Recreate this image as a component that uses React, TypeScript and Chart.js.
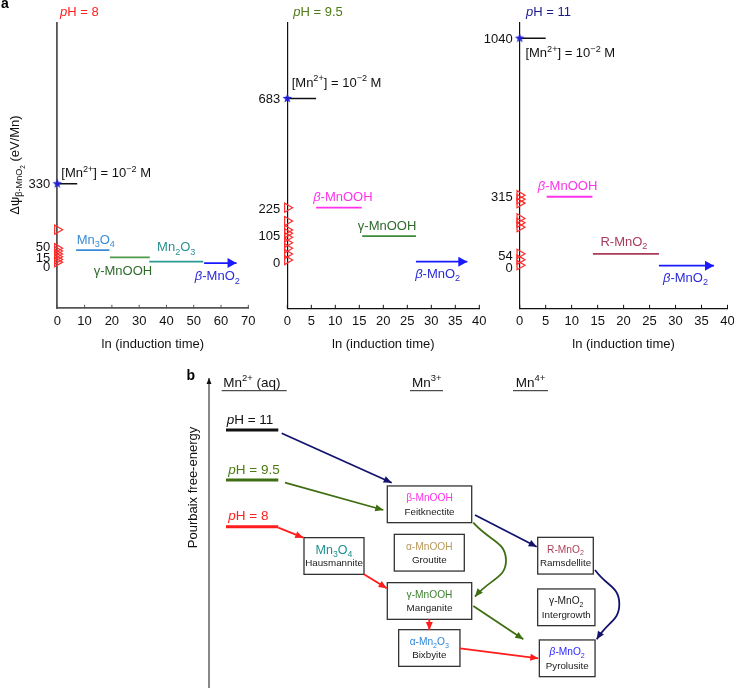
import React, { useEffect, useRef } from 'react';
import { Chart, registerables } from 'chart.js';

Chart.register(...registerables);

const FONT = '"Liberation Sans", Arial, Helvetica, sans-serif';

// ================= Panel a: shared text =================
const xAxisTitle = 'ln (induction time)';
const yAxisTitle = 'Δψ_{β-MnO_2} (eV/Mn)';
const aqLabel = '[Mn^{2+}] = 10^{−2} M';

// ================= Panel a: pH = 8 =================
const ph8Title = '*p*H = 8';
const ph8XMax = 70;
const ph8XStep = 10;
const ph8YTicks = [0, 15, 50, 330];
const ph8Triangles = [139, 62, 50, 38, 26, 15, 4];
const ph8Aq = 330;
const ph8AqEnd = 7.3;
const ph8Phases = ['Mn_3O_4', 'γ-MnOOH', 'Mn_2O_3', '*β*-MnO_2'];
const ph8Start = [6.9, 19.3, 33.7, 53.8];
const ph8End = [19.1, 33.9, 53.5, 65.7];
const ph8Energy = [54, 24, 6, 0];

// ================= Panel a: pH = 9.5 =================
const ph95Title = '*p*H = 9.5';
const ph95XMax = 40;
const ph95XStep = 5;
const ph95YTicks = [0, 105, 225, 683];
const ph95Triangles = [226, 170, 133, 119, 102, 79, 56, 32, 7];
const ph95Aq = 683;
const ph95AqEnd = 6.0;
const ph95Phases = ['*β*-MnOOH', 'γ-MnOOH', '*β*-MnO_2'];
const ph95Start = [6.0, 15.6, 26.8];
const ph95End = [15.5, 26.8, 37.5];
const ph95Energy = [226, 107, 0];

// ================= Panel a: pH = 11 =================
const ph11Title = '*p*H = 11';
const ph11XMax = 40;
const ph11XStep = 5;
const ph11YTicks = [0, 54, 315, 1040];
const ph11Triangles = [322, 304, 286, 216, 196, 176, 54, 27, 2];
const ph11Aq = 1040;
const ph11AqEnd = 5.0;
const ph11Phases = ['*β*-MnOOH', 'R-MnO_2', '*β*-MnO_2'];
const ph11Start = [5.2, 14.1, 26.8];
const ph11End = [14.0, 26.8, 37.4];
const ph11Energy = [315, 54, 0];

// ================= Panel b: diagram content =================
const bColumnHeaders = ['Mn^{2+} (aq)', 'Mn^{3+}', 'Mn^{4+}'];
const bPhLabels = ['*p*H = 11', '*p*H = 9.5', '*p*H = 8'];
const bAxisTitle = 'Pourbaix free-energy';
const boxFormula = ['β-MnOOH', 'Mn_3O_4', 'α-MnOOH', 'γ-MnOOH', 'α-Mn_2O_3', 'R-MnO_2', 'γ-MnO_2', '*β*-MnO_2'];
const boxMineral = ['Feitknectite', 'Hausmannite', 'Groutite', 'Manganite', 'Bixbyite', 'Ramsdellite', 'Intergrowth', 'Pyrolusite'];

// ---- panel b layout (diagram units) ----
const bHeaderX0 = [41.7, 230, 333];
const bHeaderX1 = [106.7, 263, 368];
const bHeaderTextX = [43.3, 246.7, 350.5];
const bHeaderAlign: ('left' | 'center')[] = ['left', 'center', 'center'];
const bHeaderY = 21.7;
const bUnderlineY = 30.7;
const bPhLevel = [70, 120, 166.7];
const bPhLineX = [46, 98.3];
const bPhTextX = [46.7, 48.3, 48.3];
const bPhTextY = [59, 109.3, 155];
const boxX = [249.5, 154, 249.3, 249.5, 249.3, 385.5, 386.3, 387.2];
const boxY = [144.3, 196, 192.7, 241, 288, 195.7, 247.3, 298.3];
const boxW = [84.4, 60, 70, 84.4, 61.3, 55.6, 57.3, 55.7];
const boxH = 36.7;
const bArrowPaths: number[][][] = [
  [[101.7, 73.3], [211.7, 122.7]],
  [[105, 122.7], [203.3, 150]],
  [[98.3, 167.7], [123.3, 177.7]],
  [[184, 214.3], [206.7, 228.3]],
  [[249.3, 259.3], [249.3, 270]],
  [[280, 288.3], [358.3, 298.3]],
  [[295, 155], [356.7, 186.7]],
  [[293.3, 162.7], [326, 200], [295, 236.7]],
  [[293.3, 246], [343.3, 279.3]],
  [[415, 210], [439.3, 243.3], [416.7, 279.3]],
];

// ---- styles ----
const NAVY = '#13136e';
const GREEN = '#3f6e12';
const RED = '#ff1c1c';
const bArrowColors = [NAVY, GREEN, RED, RED, RED, RED, NAVY, GREEN, GREEN, NAVY];
const bPhLineColors = ['#111111', GREEN, RED];
const bPhTextColors = ['#111111', '#4d7a12', '#ff2020'];
const boxFormulaColors = ['#ff33ee', '#1f8f8f', '#b89a5c', '#3f7f2f', '#2f88d8', '#b0405a', '#222222', '#2a2aff'];
const boxFormulaSize = [10.2, 12.5, 10.2, 10.2, 10.2, 10.2, 10.2, 10.2];

// ================= rich text helpers =================
type Seg = { t: string; scale: number; dy: number; it: boolean };

function parseRich(s: string, scale = 1, dy = 0, it = false): Seg[] {
  const out: Seg[] = [];
  let buf = '';
  let italic = it;
  const flush = () => {
    if (buf) {
      out.push({ t: buf, scale, dy, it: italic });
      buf = '';
    }
  };
  let i = 0;
  while (i < s.length) {
    const c = s[i];
    if (c === '_' || c === '^') {
      flush();
      let inner: string;
      if (s[i + 1] === '{') {
        let depth = 1;
        let j = i + 2;
        while (j < s.length && depth > 0) {
          if (s[j] === '{') depth++;
          else if (s[j] === '}') depth--;
          j++;
        }
        inner = s.slice(i + 2, j - 1);
        i = j;
      } else {
        inner = s[i + 1];
        i += 2;
      }
      const ndy = dy + (c === '_' ? 0.25 * scale : -0.4 * scale);
      out.push(...parseRich(inner, scale * 0.7, ndy, italic));
      continue;
    }
    if (c === '*') {
      flush();
      italic = !italic;
      i++;
      continue;
    }
    buf += c;
    i++;
  }
  flush();
  return out;
}

function segFont(s: Seg, size: number, bold: boolean) {
  return `${s.it ? 'italic ' : ''}${bold ? 'bold ' : ''}${(size * s.scale).toFixed(2)}px ${FONT}`;
}

function drawRich(
  ctx: CanvasRenderingContext2D,
  str: string,
  x: number,
  y: number,
  size: number,
  color: string,
  align: 'left' | 'center' | 'right' = 'left',
  bold = false
) {
  const segs = parseRich(str);
  let total = 0;
  const widths = segs.map((s) => {
    ctx.font = segFont(s, size, bold);
    const w = ctx.measureText(s.t).width;
    total += w;
    return w;
  });
  let cx = align === 'center' ? x - total / 2 : align === 'right' ? x - total : x;
  const base = y + 0.36 * size;
  ctx.save();
  ctx.fillStyle = color;
  ctx.textBaseline = 'alphabetic';
  ctx.textAlign = 'left';
  segs.forEach((s, i) => {
    ctx.font = segFont(s, size, bold);
    ctx.fillText(s.t, cx, base + s.dy * size);
    cx += widths[i];
  });
  ctx.restore();
}

function makeStar(): HTMLCanvasElement {
  const c = document.createElement('canvas');
  c.width = 11;
  c.height = 11;
  const g = c.getContext('2d')!;
  g.fillStyle = '#2020d8';
  g.beginPath();
  for (let k = 0; k < 10; k++) {
    const r = k % 2 === 0 ? 5 : 2.1;
    const a = -Math.PI / 2 + (k * Math.PI) / 5;
    const px = 5.5 + r * Math.cos(a);
    const py = 5.5 + r * Math.sin(a);
    if (k === 0) g.moveTo(px, py);
    else g.lineTo(px, py);
  }
  g.closePath();
  g.fill();
  return c;
}

// arrowheads for datasets flagged with `arrow`
const arrowPlugin = {
  id: 'arrowHeads',
  afterDatasetsDraw(chart: any) {
    const ctx = chart.ctx as CanvasRenderingContext2D;
    chart.data.datasets.forEach((ds: any, i: number) => {
      if (!ds.arrow) return;
      const pts = chart.getDatasetMeta(i).data as any[];
      const n = pts.length;
      if (n < 2) return;
      const end = pts[n - 1];
      const prev = pts[n - 2];
      let fx = prev.x;
      let fy = prev.y;
      if (ds.tension && end.cp1x !== undefined && (end.cp1x !== end.x || end.cp1y !== end.y)) {
        fx = end.cp1x;
        fy = end.cp1y;
      }
      const ang = Math.atan2(end.y - fy, end.x - fx);
      const L = ds.arrowLen ?? 8;
      const W = ds.arrowHalf ?? 3.5;
      const bx = end.x - L * Math.cos(ang);
      const by = end.y - L * Math.sin(ang);
      ctx.save();
      ctx.fillStyle = ds.borderColor;
      ctx.beginPath();
      ctx.moveTo(end.x, end.y);
      ctx.lineTo(bx + W * Math.sin(ang), by - W * Math.cos(ang));
      ctx.lineTo(bx - W * Math.sin(ang), by + W * Math.cos(ang));
      ctx.closePath();
      ctx.fill();
      ctx.restore();
    });
  },
};

interface PanelCfg {
  title: string;
  titleColor: string;
  titleDx: number;
  xMax: number;
  xStep: number;
  yMin: number;
  yMax: number;
  yTicks: number[];
  yNudge: number[];
  triangles: number[];
  aq: number;
  aqEnd: number;
  aqDx: number;
  aqDy: number;
  phases: string[];
  start: number[];
  end: number[];
  energy: number[];
  colors: string[];
  labelColors: string[];
  labelDy: number[];
  labelDx: number[];
  axisColor: string;
  axisWidth: number;
  yAxisWidth: number;
  rightPad: number;
  showYTitle: boolean;
}

const panelCfgs: PanelCfg[] = [
  {
    title: ph8Title, titleColor: '#ff2020', titleDx: 2.7,
    xMax: ph8XMax, xStep: ph8XStep, yMin: -188, yMax: 1000,
    yTicks: ph8YTicks, yNudge: [3.5, -2.5, -5, 0],
    triangles: ph8Triangles, aq: ph8Aq, aqEnd: ph8AqEnd, aqDx: 4, aqDy: -11,
    phases: ph8Phases, start: ph8Start, end: ph8End, energy: ph8Energy,
    colors: ['#3b8bd6', '#4f9a4a', '#2a9a95', '#1a1aff'],
    labelColors: ['#3b8bd6', '#2e6a2a', '#2a9090', '#2a2ad8'],
    labelDy: [-11, 13, -15, 12.5], labelDx: [3, -7, 0, -3],
    axisColor: '#555555', axisWidth: 1.8, yAxisWidth: 57.3, rightPad: 16.7, showYTitle: true,
  },
  {
    title: ph95Title, titleColor: '#4d7a12', titleDx: 6,
    xMax: ph95XMax, xStep: ph95XStep, yMin: -195, yMax: 1000,
    yTicks: ph95YTicks, yNudge: [0.6, -1.3, 0, 0],
    triangles: ph95Triangles, aq: ph95Aq, aqEnd: ph95AqEnd, aqDx: 4.4, aqDy: -16.6,
    phases: ph95Phases, start: ph95Start, end: ph95End, energy: ph95Energy,
    colors: ['#ff33ee', '#3a8a3a', '#1a1aff'],
    labelColors: ['#ff33ee', '#2e6a2a', '#2a2ad8'],
    labelDy: [-11, -10.5, 11.5], labelDx: [4, -2, -4],
    axisColor: '#111111', axisWidth: 1.2, yAxisWidth: 47.3, rightPad: 10.7, showYTitle: false,
  },
  {
    title: ph11Title, titleColor: '#1a1a8a', titleDx: 6.3,
    xMax: ph11XMax, xStep: ph11XStep, yMin: -195, yMax: 1111,
    yTicks: ph11YTicks, yNudge: [2, 1, -0.8, 0],
    triangles: ph11Triangles, aq: ph11Aq, aqEnd: ph11AqEnd, aqDx: 5.7, aqDy: 14.4,
    phases: ph11Phases, start: ph11Start, end: ph11End, energy: ph11Energy,
    colors: ['#ff33ee', '#a83a5a', '#1a1aff'],
    labelColors: ['#ff33ee', '#a83a5a', '#2a2ad8'],
    labelDy: [-11.5, -12.5, 11.5], labelDx: [-2, -2, -1],
    axisColor: '#111111', axisWidth: 1.2, yAxisWidth: 49.7, rightPad: 6.3, showYTitle: false,
  },
];

function buildPanelChart(canvas: HTMLCanvasElement, cfg: PanelCfg, star: HTMLCanvasElement) {
  const datasets: any[] = [];
  datasets.push({
    data: [{ x: 0, y: cfg.aq }],
    pointStyle: star,
    pointRadius: 5,
    clip: false,
  });
  datasets.push({
    data: [{ x: 0, y: cfg.aq }, { x: cfg.aqEnd, y: cfg.aq }],
    showLine: true,
    borderColor: '#111111',
    borderWidth: 1.4,
    pointRadius: 0,
  });
  datasets.push({
    data: cfg.triangles.map((v) => ({ x: 0, y: v })),
    pointStyle: 'triangle',
    rotation: 90,
    pointRadius: 5.3,
    borderColor: '#ff2a2a',
    backgroundColor: 'rgba(255,255,255,0)',
    borderWidth: 1.2,
    clip: false,
  });
  cfg.phases.forEach((p, i) => {
    const isLast = i === cfg.phases.length - 1;
    datasets.push({
      data: [{ x: cfg.start[i], y: cfg.energy[i] }, { x: cfg.end[i], y: cfg.energy[i] }],
      showLine: true,
      borderColor: cfg.colors[i],
      borderWidth: 1.8,
      pointRadius: 0,
      arrow: isLast,
      arrowLen: 9,
      arrowHalf: 5,
      clip: false,
    });
  });

  const textPlugin = {
    id: 'panelText',
    afterDraw(chart: any) {
      const ctx = chart.ctx as CanvasRenderingContext2D;
      const xs = chart.scales.x;
      const ys = chart.scales.y;
      const area = chart.chartArea;
      ctx.save();
      // inward tick marks on x axis
      ctx.strokeStyle = cfg.axisColor;
      ctx.lineWidth = 1;
      xs.ticks.forEach((t: any) => {
        const px = xs.getPixelForValue(t.value);
        ctx.beginPath();
        ctx.moveTo(px, area.bottom);
        ctx.lineTo(px, area.bottom - 3.5);
        ctx.stroke();
      });
      ctx.restore();
      // y tick labels
      cfg.yTicks.forEach((v, i) => {
        drawRich(ctx, String(v), area.left - 7, ys.getPixelForValue(v) + cfg.yNudge[i], 13, '#111111', 'right');
      });
      // panel title
      drawRich(ctx, cfg.title, area.left + cfg.titleDx, 11.7, 13, cfg.titleColor, 'left');
      // x axis title
      drawRich(ctx, xAxisTitle, (area.left + area.right) / 2, 343, 13, '#111111', 'center');
      // aqueous label
      drawRich(ctx, aqLabel, xs.getPixelForValue(0) + cfg.aqDx, ys.getPixelForValue(cfg.aq) + cfg.aqDy, 13, '#111111', 'left');
      // phase labels
      cfg.phases.forEach((p, i) => {
        const cx = xs.getPixelForValue((cfg.start[i] + cfg.end[i]) / 2) + cfg.labelDx[i];
        const cy = ys.getPixelForValue(cfg.energy[i]) + cfg.labelDy[i];
        drawRich(ctx, p, cx, cy, 13, cfg.labelColors[i], 'center');
      });
      if (cfg.showYTitle) {
        ctx.save();
        ctx.translate(14.5, 165);
        ctx.rotate(-Math.PI / 2);
        drawRich(ctx, yAxisTitle, 0, 0, 13, '#111111', 'center');
        ctx.restore();
        drawRich(ctx, 'a', 5, 3, 14, '#000000', 'center', true);
      }
    },
  };

  return new Chart(canvas, {
    type: 'scatter',
    data: { datasets },
    options: {
      animation: false,
      responsive: false,
      devicePixelRatio: 1,
      events: [],
      layout: { padding: { top: 22.7, right: cfg.rightPad, bottom: 0, left: 0 } },
      plugins: { legend: { display: false }, tooltip: { enabled: false }, title: { display: false } },
      scales: {
        x: {
          type: 'linear',
          min: 0,
          max: cfg.xMax,
          grid: { display: false, drawTicks: false },
          border: { display: true, color: cfg.axisColor, width: cfg.axisWidth },
          ticks: {
            stepSize: cfg.xStep,
            padding: 5.5,
            color: '#111111',
            font: { family: FONT, size: 13 },
            maxRotation: 0,
            autoSkip: false,
          },
          afterFit: (s: any) => {
            s.height = 51.7;
            s.paddingLeft = 0;
            s.paddingRight = 0;
          },
        },
        y: {
          type: 'linear',
          min: cfg.yMin,
          max: cfg.yMax,
          grid: { display: false, drawTicks: false },
          border: { display: true, color: cfg.axisColor, width: cfg.axisWidth },
          ticks: { display: false },
          afterFit: (s: any) => {
            s.width = cfg.yAxisWidth;
            s.paddingTop = 0;
            s.paddingBottom = 0;
          },
        },
      },
    } as any,
    plugins: [arrowPlugin, textPlugin] as any,
  });
}

function buildDiagram(canvas: HTMLCanvasElement) {
  const datasets: any[] = [];
  // free-energy axis
  datasets.push({
    data: [{ x: 29, y: 328 }, { x: 29, y: 18 }],
    showLine: true, borderColor: '#111111', borderWidth: 1, pointRadius: 0,
    arrow: true, arrowLen: 6, arrowHalf: 2.5,
  });
  // header underlines
  bHeaderX0.forEach((x0, i) => {
    datasets.push({
      data: [{ x: x0, y: bUnderlineY }, { x: bHeaderX1[i], y: bUnderlineY }],
      showLine: true, borderColor: '#222222', borderWidth: 1, pointRadius: 0,
    });
  });
  // pH levels
  bPhLevel.forEach((lv, i) => {
    datasets.push({
      data: [{ x: bPhLineX[0], y: lv }, { x: bPhLineX[1], y: lv }],
      showLine: true, borderColor: bPhLineColors[i], borderWidth: 3, pointRadius: 0,
    });
  });
  // transformation arrows
  bArrowPaths.forEach((path, i) => {
    datasets.push({
      data: path.map((p) => ({ x: p[0], y: p[1] })),
      showLine: true,
      borderColor: bArrowColors[i],
      borderWidth: 1.8,
      pointRadius: 0,
      tension: path.length > 2 ? 0.5 : 0,
      arrow: true,
      arrowLen: 8,
      arrowHalf: 3.5,
    });
  });

  const boxPlugin = {
    id: 'boxes',
    beforeDatasetsDraw(chart: any) {
      const ctx = chart.ctx as CanvasRenderingContext2D;
      const X = (v: number) => chart.scales.x.getPixelForValue(v);
      const Y = (v: number) => chart.scales.y.getPixelForValue(v);
      boxFormula.forEach((f, i) => {
        const l = X(boxX[i] - boxW[i] / 2);
        const r = X(boxX[i] + boxW[i] / 2);
        const t = Y(boxY[i] - boxH / 2);
        const b = Y(boxY[i] + boxH / 2);
        ctx.save();
        ctx.fillStyle = '#ffffff';
        ctx.fillRect(l, t, r - l, b - t);
        ctx.strokeStyle = '#333333';
        ctx.lineWidth = 1.3;
        ctx.strokeRect(l, t, r - l, b - t);
        ctx.restore();
        drawRich(ctx, f, X(boxX[i]), Y(boxY[i]) - 6.5, boxFormulaSize[i], boxFormulaColors[i], 'center');
        drawRich(ctx, boxMineral[i], X(boxX[i]), Y(boxY[i]) + 6.7, 9.8, '#1a1a1a', 'center');
      });
    },
    afterDraw(chart: any) {
      const ctx = chart.ctx as CanvasRenderingContext2D;
      const X = (v: number) => chart.scales.x.getPixelForValue(v);
      const Y = (v: number) => chart.scales.y.getPixelForValue(v);
      bColumnHeaders.forEach((h, i) => {
        drawRich(ctx, h, X(bHeaderTextX[i]), Y(bHeaderY), 13.5, '#111111', bHeaderAlign[i]);
      });
      bPhLabels.forEach((p, i) => {
        drawRich(ctx, p, X(bPhTextX[i]), Y(bPhTextY[i]), 13.5, bPhTextColors[i], 'left');
      });
      ctx.save();
      ctx.translate(X(12.7), Y(127.5));
      ctx.rotate(-Math.PI / 2);
      drawRich(ctx, bAxisTitle, 0, 0, 13, '#111111', 'center');
      ctx.restore();
      drawRich(ctx, 'b', X(10.8), Y(15), 14, '#000000', 'center', true);
    },
  };

  return new Chart(canvas, {
    type: 'scatter',
    data: { datasets },
    options: {
      animation: false,
      responsive: false,
      devicePixelRatio: 1,
      events: [],
      layout: { padding: 0 },
      plugins: { legend: { display: false }, tooltip: { enabled: false } },
      scales: {
        x: { type: 'linear', min: 0, max: 554, display: false },
        y: { type: 'linear', min: 0, max: 328, reverse: true, display: false },
      },
    } as any,
    plugins: [boxPlugin, arrowPlugin] as any,
  });
}

export default function App() {
  const c1 = useRef<HTMLCanvasElement>(null);
  const c2 = useRef<HTMLCanvasElement>(null);
  const c3 = useRef<HTMLCanvasElement>(null);
  const c4 = useRef<HTMLCanvasElement>(null);

  useEffect(() => {
    const star = makeStar();
    const charts: Chart[] = [];
    const refs = [c1, c2, c3];
    refs.forEach((r, i) => {
      if (r.current) charts.push(buildPanelChart(r.current, panelCfgs[i], star));
    });
    if (c4.current) charts.push(buildDiagram(c4.current));
    return () => charts.forEach((c) => c.destroy());
  }, []);

  const abs = (left: number, top: number, w: number, h: number): React.CSSProperties => ({
    position: 'absolute', left, top, width: w, height: h,
  });

  return (
    <div style={{ position: 'absolute', left: 0, top: 0, width: 734, height: 688, background: '#ffffff', overflow: 'hidden' }}>
      <canvas ref={c1} width={265} height={360} style={abs(0, 0, 265, 360)} />
      <canvas ref={c2} width={250} height={360} style={abs(240, 0, 250, 360)} />
      <canvas ref={c3} width={264} height={360} style={abs(470, 0, 264, 360)} />
      <canvas ref={c4} width={554} height={328} style={abs(180, 360, 554, 328)} />
    </div>
  );
}
